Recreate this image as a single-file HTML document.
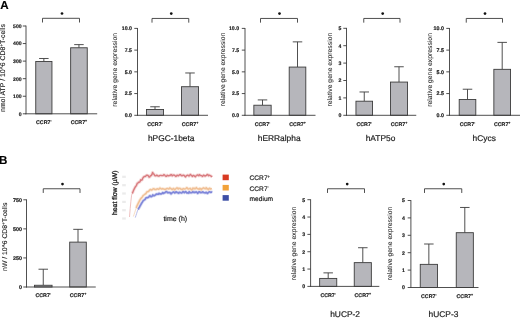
<!DOCTYPE html>
<html><head><meta charset="utf-8"><style>
html,body{margin:0;padding:0;background:#fff;}
svg{display:block;font-family:'Liberation Sans', Arial, sans-serif;text-rendering:geometricPrecision;}
text{stroke:#1a1a1a;stroke-width:0.18px;}
</style></head><body>
<svg width="520" height="318" viewBox="0 0 520 318">
<rect width="520" height="318" fill="#fff"/>
<line x1="43.85" y1="61.47" x2="43.85" y2="58.49" stroke="#3c3c3c" stroke-width="0.9"/>
<line x1="39.10" y1="58.49" x2="48.60" y2="58.49" stroke="#3c3c3c" stroke-width="0.9"/>
<rect x="35.75" y="61.47" width="16.20" height="52.33" fill="#b6b6bb" stroke="#3c3c3c" stroke-width="0.9"/>
<line x1="78.95" y1="47.77" x2="78.95" y2="44.61" stroke="#3c3c3c" stroke-width="0.9"/>
<line x1="74.20" y1="44.61" x2="83.70" y2="44.61" stroke="#3c3c3c" stroke-width="0.9"/>
<rect x="70.65" y="47.77" width="16.60" height="66.03" fill="#b6b6bb" stroke="#3c3c3c" stroke-width="0.9"/>
<line x1="26.00" y1="25.60" x2="26.00" y2="114.25" stroke="#3c3c3c" stroke-width="0.9"/>
<line x1="25.55" y1="113.80" x2="97.20" y2="113.80" stroke="#3c3c3c" stroke-width="0.9"/>
<line x1="22.80" y1="113.80" x2="26.00" y2="113.80" stroke="#3c3c3c" stroke-width="0.9"/>
<text x="21.60" y="115.65" font-size="5.1" text-anchor="end" font-weight="bold" fill="#1a1a1a" >0</text>
<line x1="22.80" y1="96.24" x2="26.00" y2="96.24" stroke="#3c3c3c" stroke-width="0.9"/>
<text x="21.60" y="98.09" font-size="5.1" text-anchor="end" font-weight="bold" fill="#1a1a1a" >100</text>
<line x1="22.80" y1="78.68" x2="26.00" y2="78.68" stroke="#3c3c3c" stroke-width="0.9"/>
<text x="21.60" y="80.53" font-size="5.1" text-anchor="end" font-weight="bold" fill="#1a1a1a" >200</text>
<line x1="22.80" y1="61.12" x2="26.00" y2="61.12" stroke="#3c3c3c" stroke-width="0.9"/>
<text x="21.60" y="62.97" font-size="5.1" text-anchor="end" font-weight="bold" fill="#1a1a1a" >300</text>
<line x1="22.80" y1="43.56" x2="26.00" y2="43.56" stroke="#3c3c3c" stroke-width="0.9"/>
<text x="21.60" y="45.41" font-size="5.1" text-anchor="end" font-weight="bold" fill="#1a1a1a" >400</text>
<line x1="22.80" y1="26.00" x2="26.00" y2="26.00" stroke="#3c3c3c" stroke-width="0.9"/>
<text x="21.60" y="27.85" font-size="5.1" text-anchor="end" font-weight="bold" fill="#1a1a1a" >500</text>
<text x="43.85" y="124.00" font-size="5.3" text-anchor="middle" font-weight="bold" fill="#1a1a1a">CCR7<tspan font-size="3.6" dy="-2">-</tspan></text>
<text x="78.95" y="124.00" font-size="5.3" text-anchor="middle" font-weight="bold" fill="#1a1a1a">CCR7<tspan font-size="3.6" dy="-2">+</tspan></text>
<polyline points="42.50,22.50 42.50,18.30 79.50,18.30 79.50,22.50" fill="none" stroke="#3c3c3c" stroke-width="0.9"/>
<circle cx="62.00" cy="13.50" r="1.35" fill="#111"/>
<text transform="translate(4.80,68.05) rotate(-90)" x="0" y="0" font-size="6.88" text-anchor="middle" style="fill:#1a1a1a;stroke-width:0.12px">nmol ATP / 10^6 CD8<tspan font-size="4.5" dy="-2">+</tspan><tspan dy="2">T-cells</tspan></text>
<line x1="155.00" y1="109.48" x2="155.00" y2="106.78" stroke="#3c3c3c" stroke-width="0.9"/>
<line x1="150.25" y1="106.78" x2="159.75" y2="106.78" stroke="#3c3c3c" stroke-width="0.9"/>
<rect x="146.45" y="109.48" width="17.10" height="5.82" fill="#b6b6bb" stroke="#3c3c3c" stroke-width="0.9"/>
<line x1="190.00" y1="86.71" x2="190.00" y2="72.98" stroke="#3c3c3c" stroke-width="0.9"/>
<line x1="185.25" y1="72.98" x2="194.75" y2="72.98" stroke="#3c3c3c" stroke-width="0.9"/>
<rect x="181.45" y="86.71" width="17.10" height="28.59" fill="#b6b6bb" stroke="#3c3c3c" stroke-width="0.9"/>
<line x1="137.50" y1="28.00" x2="137.50" y2="115.75" stroke="#3c3c3c" stroke-width="0.9"/>
<line x1="137.05" y1="115.30" x2="208.00" y2="115.30" stroke="#3c3c3c" stroke-width="0.9"/>
<line x1="134.30" y1="115.30" x2="137.50" y2="115.30" stroke="#3c3c3c" stroke-width="0.9"/>
<text x="131.90" y="117.15" font-size="5.2" text-anchor="end" font-weight="bold" fill="#1a1a1a" >0.0</text>
<line x1="134.30" y1="93.57" x2="137.50" y2="93.57" stroke="#3c3c3c" stroke-width="0.9"/>
<text x="131.90" y="95.42" font-size="5.2" text-anchor="end" font-weight="bold" fill="#1a1a1a" >2.5</text>
<line x1="134.30" y1="71.85" x2="137.50" y2="71.85" stroke="#3c3c3c" stroke-width="0.9"/>
<text x="131.90" y="73.70" font-size="5.2" text-anchor="end" font-weight="bold" fill="#1a1a1a" >5.0</text>
<line x1="134.30" y1="50.12" x2="137.50" y2="50.12" stroke="#3c3c3c" stroke-width="0.9"/>
<text x="131.90" y="51.97" font-size="5.2" text-anchor="end" font-weight="bold" fill="#1a1a1a" >7.5</text>
<line x1="134.30" y1="28.40" x2="137.50" y2="28.40" stroke="#3c3c3c" stroke-width="0.9"/>
<text x="131.90" y="30.25" font-size="5.2" text-anchor="end" font-weight="bold" fill="#1a1a1a" >10.0</text>
<text x="155.00" y="125.50" font-size="5.3" text-anchor="middle" font-weight="bold" fill="#1a1a1a">CCR7<tspan font-size="3.6" dy="-2">-</tspan></text>
<text x="190.00" y="125.50" font-size="5.3" text-anchor="middle" font-weight="bold" fill="#1a1a1a">CCR7<tspan font-size="3.6" dy="-2">+</tspan></text>
<polyline points="152.00,22.65 152.00,18.45 188.75,18.45 188.75,22.65" fill="none" stroke="#3c3c3c" stroke-width="0.9"/>
<circle cx="171.25" cy="13.60" r="1.35" fill="#111"/>
<text x="171.20" y="141.10" font-size="8.4" text-anchor="middle" font-weight="normal" fill="#1a1a1a" >hPGC-1beta</text>
<text transform="translate(116.80,69.80) rotate(-90)" x="0" y="0" font-size="6.8" text-anchor="middle" style="fill:#222;stroke:#222;stroke-width:0.05px">relative gene expression</text>
<line x1="262.50" y1="105.22" x2="262.50" y2="99.92" stroke="#3c3c3c" stroke-width="0.9"/>
<line x1="257.75" y1="99.92" x2="267.25" y2="99.92" stroke="#3c3c3c" stroke-width="0.9"/>
<rect x="253.85" y="105.22" width="17.30" height="10.08" fill="#b6b6bb" stroke="#3c3c3c" stroke-width="0.9"/>
<line x1="297.50" y1="67.07" x2="297.50" y2="41.87" stroke="#3c3c3c" stroke-width="0.9"/>
<line x1="292.75" y1="41.87" x2="302.25" y2="41.87" stroke="#3c3c3c" stroke-width="0.9"/>
<rect x="289.20" y="67.07" width="16.60" height="48.23" fill="#b6b6bb" stroke="#3c3c3c" stroke-width="0.9"/>
<line x1="245.00" y1="28.00" x2="245.00" y2="115.75" stroke="#3c3c3c" stroke-width="0.9"/>
<line x1="244.55" y1="115.30" x2="315.50" y2="115.30" stroke="#3c3c3c" stroke-width="0.9"/>
<line x1="241.80" y1="115.30" x2="245.00" y2="115.30" stroke="#3c3c3c" stroke-width="0.9"/>
<text x="239.10" y="117.15" font-size="5.2" text-anchor="end" font-weight="bold" fill="#1a1a1a" >0.0</text>
<line x1="241.80" y1="93.57" x2="245.00" y2="93.57" stroke="#3c3c3c" stroke-width="0.9"/>
<text x="239.10" y="95.42" font-size="5.2" text-anchor="end" font-weight="bold" fill="#1a1a1a" >2.5</text>
<line x1="241.80" y1="71.85" x2="245.00" y2="71.85" stroke="#3c3c3c" stroke-width="0.9"/>
<text x="239.10" y="73.70" font-size="5.2" text-anchor="end" font-weight="bold" fill="#1a1a1a" >5.0</text>
<line x1="241.80" y1="50.12" x2="245.00" y2="50.12" stroke="#3c3c3c" stroke-width="0.9"/>
<text x="239.10" y="51.97" font-size="5.2" text-anchor="end" font-weight="bold" fill="#1a1a1a" >7.5</text>
<line x1="241.80" y1="28.40" x2="245.00" y2="28.40" stroke="#3c3c3c" stroke-width="0.9"/>
<text x="239.10" y="30.25" font-size="5.2" text-anchor="end" font-weight="bold" fill="#1a1a1a" >10.0</text>
<text x="262.50" y="125.50" font-size="5.3" text-anchor="middle" font-weight="bold" fill="#1a1a1a">CCR7<tspan font-size="3.6" dy="-2">-</tspan></text>
<text x="297.50" y="125.50" font-size="5.3" text-anchor="middle" font-weight="bold" fill="#1a1a1a">CCR7<tspan font-size="3.6" dy="-2">+</tspan></text>
<polyline points="260.50,22.65 260.50,18.45 297.50,18.45 297.50,22.65" fill="none" stroke="#3c3c3c" stroke-width="0.9"/>
<circle cx="279.50" cy="13.60" r="1.35" fill="#111"/>
<text x="279.20" y="141.10" font-size="8.4" text-anchor="middle" font-weight="normal" fill="#1a1a1a" >hERRalpha</text>
<text transform="translate(225.20,69.40) rotate(-90)" x="0" y="0" font-size="6.8" text-anchor="middle" style="fill:#222;stroke:#222;stroke-width:0.05px">relative gene expression</text>
<line x1="364.25" y1="101.21" x2="364.25" y2="91.98" stroke="#3c3c3c" stroke-width="0.9"/>
<line x1="359.50" y1="91.98" x2="369.00" y2="91.98" stroke="#3c3c3c" stroke-width="0.9"/>
<rect x="355.95" y="101.21" width="16.60" height="14.09" fill="#b6b6bb" stroke="#3c3c3c" stroke-width="0.9"/>
<line x1="399.00" y1="82.07" x2="399.00" y2="66.75" stroke="#3c3c3c" stroke-width="0.9"/>
<line x1="394.25" y1="66.75" x2="403.75" y2="66.75" stroke="#3c3c3c" stroke-width="0.9"/>
<rect x="390.45" y="82.07" width="17.10" height="33.23" fill="#b6b6bb" stroke="#3c3c3c" stroke-width="0.9"/>
<line x1="346.50" y1="27.90" x2="346.50" y2="115.75" stroke="#3c3c3c" stroke-width="0.9"/>
<line x1="346.05" y1="115.30" x2="416.25" y2="115.30" stroke="#3c3c3c" stroke-width="0.9"/>
<line x1="343.30" y1="115.30" x2="346.50" y2="115.30" stroke="#3c3c3c" stroke-width="0.9"/>
<text x="341.30" y="117.15" font-size="5.2" text-anchor="end" font-weight="bold" fill="#1a1a1a" >0</text>
<line x1="343.30" y1="97.90" x2="346.50" y2="97.90" stroke="#3c3c3c" stroke-width="0.9"/>
<text x="341.30" y="99.75" font-size="5.2" text-anchor="end" font-weight="bold" fill="#1a1a1a" >1</text>
<line x1="343.30" y1="80.50" x2="346.50" y2="80.50" stroke="#3c3c3c" stroke-width="0.9"/>
<text x="341.30" y="82.35" font-size="5.2" text-anchor="end" font-weight="bold" fill="#1a1a1a" >2</text>
<line x1="343.30" y1="63.10" x2="346.50" y2="63.10" stroke="#3c3c3c" stroke-width="0.9"/>
<text x="341.30" y="64.95" font-size="5.2" text-anchor="end" font-weight="bold" fill="#1a1a1a" >3</text>
<line x1="343.30" y1="45.70" x2="346.50" y2="45.70" stroke="#3c3c3c" stroke-width="0.9"/>
<text x="341.30" y="47.55" font-size="5.2" text-anchor="end" font-weight="bold" fill="#1a1a1a" >4</text>
<line x1="343.30" y1="28.30" x2="346.50" y2="28.30" stroke="#3c3c3c" stroke-width="0.9"/>
<text x="341.30" y="30.15" font-size="5.2" text-anchor="end" font-weight="bold" fill="#1a1a1a" >5</text>
<text x="364.25" y="125.50" font-size="5.3" text-anchor="middle" font-weight="bold" fill="#1a1a1a">CCR7<tspan font-size="3.6" dy="-2">-</tspan></text>
<text x="399.00" y="125.50" font-size="5.3" text-anchor="middle" font-weight="bold" fill="#1a1a1a">CCR7<tspan font-size="3.6" dy="-2">+</tspan></text>
<polyline points="363.75,22.65 363.75,18.45 400.00,18.45 400.00,22.65" fill="none" stroke="#3c3c3c" stroke-width="0.9"/>
<circle cx="382.70" cy="13.60" r="1.35" fill="#111"/>
<text x="380.50" y="141.10" font-size="8.4" text-anchor="middle" font-weight="normal" fill="#1a1a1a" >hATP5o</text>
<text transform="translate(331.80,69.60) rotate(-90)" x="0" y="0" font-size="6.8" text-anchor="middle" style="fill:#222;stroke:#222;stroke-width:0.05px">relative gene expression</text>
<line x1="467.50" y1="99.48" x2="467.50" y2="89.23" stroke="#3c3c3c" stroke-width="0.9"/>
<line x1="462.75" y1="89.23" x2="472.25" y2="89.23" stroke="#3c3c3c" stroke-width="0.9"/>
<rect x="459.20" y="99.48" width="16.60" height="15.82" fill="#b6b6bb" stroke="#3c3c3c" stroke-width="0.9"/>
<line x1="502.20" y1="69.33" x2="502.20" y2="42.39" stroke="#3c3c3c" stroke-width="0.9"/>
<line x1="497.45" y1="42.39" x2="506.95" y2="42.39" stroke="#3c3c3c" stroke-width="0.9"/>
<rect x="493.85" y="69.33" width="16.70" height="45.97" fill="#b6b6bb" stroke="#3c3c3c" stroke-width="0.9"/>
<line x1="449.50" y1="28.00" x2="449.50" y2="115.75" stroke="#3c3c3c" stroke-width="0.9"/>
<line x1="449.05" y1="115.30" x2="520.00" y2="115.30" stroke="#3c3c3c" stroke-width="0.9"/>
<line x1="446.30" y1="115.30" x2="449.50" y2="115.30" stroke="#3c3c3c" stroke-width="0.9"/>
<text x="443.90" y="117.15" font-size="5.3" text-anchor="end" font-weight="bold" fill="#1a1a1a" >0.0</text>
<line x1="446.30" y1="93.57" x2="449.50" y2="93.57" stroke="#3c3c3c" stroke-width="0.9"/>
<text x="443.90" y="95.42" font-size="5.3" text-anchor="end" font-weight="bold" fill="#1a1a1a" >2.5</text>
<line x1="446.30" y1="71.85" x2="449.50" y2="71.85" stroke="#3c3c3c" stroke-width="0.9"/>
<text x="443.90" y="73.70" font-size="5.3" text-anchor="end" font-weight="bold" fill="#1a1a1a" >5.0</text>
<line x1="446.30" y1="50.12" x2="449.50" y2="50.12" stroke="#3c3c3c" stroke-width="0.9"/>
<text x="443.90" y="51.97" font-size="5.3" text-anchor="end" font-weight="bold" fill="#1a1a1a" >7.5</text>
<line x1="446.30" y1="28.40" x2="449.50" y2="28.40" stroke="#3c3c3c" stroke-width="0.9"/>
<text x="443.90" y="30.25" font-size="5.3" text-anchor="end" font-weight="bold" fill="#1a1a1a" >10.0</text>
<text x="467.50" y="125.50" font-size="5.3" text-anchor="middle" font-weight="bold" fill="#1a1a1a">CCR7<tspan font-size="3.6" dy="-2">-</tspan></text>
<text x="502.20" y="125.50" font-size="5.3" text-anchor="middle" font-weight="bold" fill="#1a1a1a">CCR7<tspan font-size="3.6" dy="-2">+</tspan></text>
<polyline points="466.25,22.65 466.25,18.45 502.50,18.45 502.50,22.65" fill="none" stroke="#3c3c3c" stroke-width="0.9"/>
<circle cx="485.00" cy="13.60" r="1.35" fill="#111"/>
<text x="484.20" y="141.10" font-size="8.4" text-anchor="middle" font-weight="normal" fill="#1a1a1a" >hCycs</text>
<text transform="translate(432.20,69.90) rotate(-90)" x="0" y="0" font-size="6.8" text-anchor="middle" style="fill:#222;stroke:#222;stroke-width:0.05px">relative gene expression</text>
<line x1="43.25" y1="285.26" x2="43.25" y2="269.21" stroke="#3c3c3c" stroke-width="0.9"/>
<line x1="38.50" y1="269.21" x2="48.00" y2="269.21" stroke="#3c3c3c" stroke-width="0.9"/>
<rect x="34.45" y="285.26" width="17.60" height="1.74" fill="#b6b6bb" stroke="#3c3c3c" stroke-width="0.9"/>
<line x1="78.00" y1="242.12" x2="78.00" y2="229.33" stroke="#3c3c3c" stroke-width="0.9"/>
<line x1="73.25" y1="229.33" x2="82.75" y2="229.33" stroke="#3c3c3c" stroke-width="0.9"/>
<rect x="69.70" y="242.12" width="16.60" height="44.88" fill="#b6b6bb" stroke="#3c3c3c" stroke-width="0.9"/>
<line x1="26.50" y1="199.40" x2="26.50" y2="287.45" stroke="#3c3c3c" stroke-width="0.9"/>
<line x1="26.05" y1="287.00" x2="95.75" y2="287.00" stroke="#3c3c3c" stroke-width="0.9"/>
<line x1="23.30" y1="287.00" x2="26.50" y2="287.00" stroke="#3c3c3c" stroke-width="0.9"/>
<text x="22.00" y="288.85" font-size="5.4" text-anchor="end" font-weight="bold" fill="#1a1a1a" >0</text>
<line x1="23.30" y1="257.93" x2="26.50" y2="257.93" stroke="#3c3c3c" stroke-width="0.9"/>
<text x="22.00" y="259.78" font-size="5.4" text-anchor="end" font-weight="bold" fill="#1a1a1a" >250</text>
<line x1="23.30" y1="228.87" x2="26.50" y2="228.87" stroke="#3c3c3c" stroke-width="0.9"/>
<text x="22.00" y="230.72" font-size="5.4" text-anchor="end" font-weight="bold" fill="#1a1a1a" >500</text>
<line x1="23.30" y1="199.80" x2="26.50" y2="199.80" stroke="#3c3c3c" stroke-width="0.9"/>
<text x="22.00" y="201.65" font-size="5.4" text-anchor="end" font-weight="bold" fill="#1a1a1a" >750</text>
<text x="43.25" y="297.20" font-size="5.3" text-anchor="middle" font-weight="bold" fill="#1a1a1a">CCR7<tspan font-size="3.6" dy="-2">-</tspan></text>
<text x="78.00" y="297.20" font-size="5.3" text-anchor="middle" font-weight="bold" fill="#1a1a1a">CCR7<tspan font-size="3.6" dy="-2">+</tspan></text>
<polyline points="43.25,192.95 43.25,188.75 80.00,188.75 80.00,192.95" fill="none" stroke="#3c3c3c" stroke-width="0.9"/>
<circle cx="62.50" cy="184.05" r="1.35" fill="#111"/>
<text transform="translate(6.80,236.80) rotate(-90)" x="0" y="0" font-size="6.8" text-anchor="middle" style="fill:#1a1a1a;stroke-width:0.12px">nW / 10^6 CD8<tspan font-size="4.5" dy="-2">+</tspan><tspan dy="2">T-cells</tspan></text>
<line x1="328.20" y1="278.42" x2="328.20" y2="272.87" stroke="#3c3c3c" stroke-width="0.9"/>
<line x1="323.45" y1="272.87" x2="332.95" y2="272.87" stroke="#3c3c3c" stroke-width="0.9"/>
<rect x="319.65" y="278.42" width="17.10" height="7.98" fill="#b6b6bb" stroke="#3c3c3c" stroke-width="0.9"/>
<line x1="362.80" y1="262.64" x2="362.80" y2="247.73" stroke="#3c3c3c" stroke-width="0.9"/>
<line x1="358.05" y1="247.73" x2="367.55" y2="247.73" stroke="#3c3c3c" stroke-width="0.9"/>
<rect x="354.25" y="262.64" width="17.10" height="23.76" fill="#b6b6bb" stroke="#3c3c3c" stroke-width="0.9"/>
<line x1="310.60" y1="199.30" x2="310.60" y2="286.85" stroke="#3c3c3c" stroke-width="0.9"/>
<line x1="310.15" y1="286.40" x2="379.30" y2="286.40" stroke="#3c3c3c" stroke-width="0.9"/>
<line x1="307.40" y1="286.40" x2="310.60" y2="286.40" stroke="#3c3c3c" stroke-width="0.9"/>
<text x="305.10" y="288.25" font-size="5.2" text-anchor="end" font-weight="bold" fill="#1a1a1a" >0</text>
<line x1="307.40" y1="269.06" x2="310.60" y2="269.06" stroke="#3c3c3c" stroke-width="0.9"/>
<text x="305.10" y="270.91" font-size="5.2" text-anchor="end" font-weight="bold" fill="#1a1a1a" >1</text>
<line x1="307.40" y1="251.72" x2="310.60" y2="251.72" stroke="#3c3c3c" stroke-width="0.9"/>
<text x="305.10" y="253.57" font-size="5.2" text-anchor="end" font-weight="bold" fill="#1a1a1a" >2</text>
<line x1="307.40" y1="234.38" x2="310.60" y2="234.38" stroke="#3c3c3c" stroke-width="0.9"/>
<text x="305.10" y="236.23" font-size="5.2" text-anchor="end" font-weight="bold" fill="#1a1a1a" >3</text>
<line x1="307.40" y1="217.04" x2="310.60" y2="217.04" stroke="#3c3c3c" stroke-width="0.9"/>
<text x="305.10" y="218.89" font-size="5.2" text-anchor="end" font-weight="bold" fill="#1a1a1a" >4</text>
<line x1="307.40" y1="199.70" x2="310.60" y2="199.70" stroke="#3c3c3c" stroke-width="0.9"/>
<text x="305.10" y="201.55" font-size="5.2" text-anchor="end" font-weight="bold" fill="#1a1a1a" >5</text>
<text x="328.20" y="296.60" font-size="5.3" text-anchor="middle" font-weight="bold" fill="#1a1a1a">CCR7<tspan font-size="3.6" dy="-2">-</tspan></text>
<text x="362.80" y="296.60" font-size="5.3" text-anchor="middle" font-weight="bold" fill="#1a1a1a">CCR7<tspan font-size="3.6" dy="-2">+</tspan></text>
<polyline points="327.50,192.95 327.50,188.75 364.50,188.75 364.50,192.95" fill="none" stroke="#3c3c3c" stroke-width="0.9"/>
<circle cx="347.20" cy="184.05" r="1.35" fill="#111"/>
<text x="345.10" y="317.30" font-size="8.4" text-anchor="middle" font-weight="normal" fill="#1a1a1a" >hUCP-2</text>
<text transform="translate(296.00,243.50) rotate(-90)" x="0" y="0" font-size="6.8" text-anchor="middle" style="fill:#222;stroke:#222;stroke-width:0.05px">relative gene expression</text>
<line x1="428.85" y1="264.36" x2="428.85" y2="244.00" stroke="#3c3c3c" stroke-width="0.9"/>
<line x1="424.10" y1="244.00" x2="433.60" y2="244.00" stroke="#3c3c3c" stroke-width="0.9"/>
<rect x="420.25" y="264.36" width="17.20" height="23.14" fill="#b6b6bb" stroke="#3c3c3c" stroke-width="0.9"/>
<line x1="464.80" y1="232.69" x2="464.80" y2="207.46" stroke="#3c3c3c" stroke-width="0.9"/>
<line x1="460.05" y1="207.46" x2="469.55" y2="207.46" stroke="#3c3c3c" stroke-width="0.9"/>
<rect x="456.25" y="232.69" width="17.10" height="54.81" fill="#b6b6bb" stroke="#3c3c3c" stroke-width="0.9"/>
<line x1="410.90" y1="200.10" x2="410.90" y2="287.95" stroke="#3c3c3c" stroke-width="0.9"/>
<line x1="410.45" y1="287.50" x2="478.50" y2="287.50" stroke="#3c3c3c" stroke-width="0.9"/>
<line x1="407.70" y1="287.50" x2="410.90" y2="287.50" stroke="#3c3c3c" stroke-width="0.9"/>
<text x="404.80" y="289.35" font-size="5.2" text-anchor="end" font-weight="bold" fill="#1a1a1a" >0</text>
<line x1="407.70" y1="270.10" x2="410.90" y2="270.10" stroke="#3c3c3c" stroke-width="0.9"/>
<text x="404.80" y="271.95" font-size="5.2" text-anchor="end" font-weight="bold" fill="#1a1a1a" >1</text>
<line x1="407.70" y1="252.70" x2="410.90" y2="252.70" stroke="#3c3c3c" stroke-width="0.9"/>
<text x="404.80" y="254.55" font-size="5.2" text-anchor="end" font-weight="bold" fill="#1a1a1a" >2</text>
<line x1="407.70" y1="235.30" x2="410.90" y2="235.30" stroke="#3c3c3c" stroke-width="0.9"/>
<text x="404.80" y="237.15" font-size="5.2" text-anchor="end" font-weight="bold" fill="#1a1a1a" >3</text>
<line x1="407.70" y1="217.90" x2="410.90" y2="217.90" stroke="#3c3c3c" stroke-width="0.9"/>
<text x="404.80" y="219.75" font-size="5.2" text-anchor="end" font-weight="bold" fill="#1a1a1a" >4</text>
<line x1="407.70" y1="200.50" x2="410.90" y2="200.50" stroke="#3c3c3c" stroke-width="0.9"/>
<text x="404.80" y="202.35" font-size="5.2" text-anchor="end" font-weight="bold" fill="#1a1a1a" >5</text>
<text x="428.85" y="297.70" font-size="5.3" text-anchor="middle" font-weight="bold" fill="#1a1a1a">CCR7<tspan font-size="3.6" dy="-2">-</tspan></text>
<text x="464.80" y="297.70" font-size="5.3" text-anchor="middle" font-weight="bold" fill="#1a1a1a">CCR7<tspan font-size="3.6" dy="-2">+</tspan></text>
<polyline points="424.50,192.95 424.50,188.75 461.75,188.75 461.75,192.95" fill="none" stroke="#3c3c3c" stroke-width="0.9"/>
<circle cx="443.75" cy="184.05" r="1.35" fill="#111"/>
<text x="443.50" y="317.30" font-size="8.4" text-anchor="middle" font-weight="normal" fill="#1a1a1a" >hUCP-3</text>
<text transform="translate(392.20,243.50) rotate(-90)" x="0" y="0" font-size="6.8" text-anchor="middle" style="fill:#222;stroke:#222;stroke-width:0.05px">relative gene expression</text>
<text x="0.30" y="8.80" font-size="11.6" text-anchor="start" font-weight="bold" fill="#000" >A</text>
<text x="-0.90" y="164.10" font-size="11.6" text-anchor="start" font-weight="bold" fill="#000" >B</text>
<polyline points="138.1,209.5 138.8,208.2 139.5,207.0 140.2,205.7 140.9,204.5 141.6,203.2 142.3,202.2 143.0,201.0 143.7,200.3 144.4,199.9 145.1,199.4 145.8,198.1 146.5,197.8 147.2,197.6 147.9,197.6 148.6,197.3 149.3,196.1 150.0,195.7 150.7,196.6 151.4,196.6 152.1,196.2 152.8,194.9 153.5,195.7 154.2,195.7 154.9,195.3 155.6,194.9 156.3,194.0 157.0,194.0 157.7,194.3 158.4,194.2 159.1,193.3 159.8,193.9 160.5,193.9 161.2,193.9 161.9,193.6 162.6,192.6 163.3,193.4 164.0,192.9 164.7,192.9 165.4,192.2 166.1,191.5 166.8,191.8 167.5,192.6 168.2,192.6 168.9,192.6 169.6,192.6 170.3,192.7 171.0,193.8 171.7,193.2 172.4,192.6 173.1,192.3 173.8,191.8 174.5,192.9 175.2,192.7 175.9,191.8 176.6,192.1 177.3,192.8 178.0,192.6 178.7,193.2 179.4,192.2 180.1,192.4 180.8,192.8 181.5,193.0 182.2,192.6 182.9,191.4 183.6,192.1 184.3,192.6 185.0,191.9 185.7,191.6 186.4,192.5 187.1,193.0 187.8,192.8 188.5,193.1 189.2,191.7 189.9,192.7 190.6,192.6 191.3,192.8 192.0,192.6 192.7,191.4 193.4,192.3 194.1,192.6 194.8,192.0 195.5,192.4 196.2,191.9 196.9,192.3 197.6,193.3 198.3,192.9 199.0,191.7 199.7,191.8 200.4,192.6 201.1,192.3 201.8,192.6 202.5,191.8 203.2,192.0 203.9,192.7 204.6,192.8 205.3,192.9 206.0,192.3 206.7,192.7 207.4,193.4 208.1,192.9 208.8,192.0 209.5,191.8 210.2,192.1 210.9,192.4 211.6,192.0 212.3,192.2" fill="none" stroke="#b8bdea" stroke-width="3.2" stroke-linejoin="round" opacity="0.55"/>
<polyline points="135.3,217.6 136.0,215.4 136.7,213.3 137.4,211.1 138.1,209.5" fill="none" stroke="#b8bdea" stroke-width="1.0" stroke-linejoin="round"/>
<polyline points="138.1,209.5 138.8,208.2 139.5,207.0 140.2,205.7 140.9,204.5 141.6,203.2 142.3,202.2 143.0,201.0 143.7,200.3 144.4,199.9 145.1,199.4 145.8,198.1 146.5,197.8 147.2,197.6 147.9,197.6 148.6,197.3 149.3,196.1 150.0,195.7 150.7,196.6 151.4,196.6 152.1,196.2 152.8,194.9 153.5,195.7 154.2,195.7 154.9,195.3 155.6,194.9 156.3,194.0 157.0,194.0 157.7,194.3 158.4,194.2 159.1,193.3 159.8,193.9 160.5,193.9 161.2,193.9 161.9,193.6 162.6,192.6 163.3,193.4 164.0,192.9 164.7,192.9 165.4,192.2 166.1,191.5 166.8,191.8 167.5,192.6 168.2,192.6 168.9,192.6 169.6,192.6 170.3,192.7 171.0,193.8 171.7,193.2 172.4,192.6 173.1,192.3 173.8,191.8 174.5,192.9 175.2,192.7 175.9,191.8 176.6,192.1 177.3,192.8 178.0,192.6 178.7,193.2 179.4,192.2 180.1,192.4 180.8,192.8 181.5,193.0 182.2,192.6 182.9,191.4 183.6,192.1 184.3,192.6 185.0,191.9 185.7,191.6 186.4,192.5 187.1,193.0 187.8,192.8 188.5,193.1 189.2,191.7 189.9,192.7 190.6,192.6 191.3,192.8 192.0,192.6 192.7,191.4 193.4,192.3 194.1,192.6 194.8,192.0 195.5,192.4 196.2,191.9 196.9,192.3 197.6,193.3 198.3,192.9 199.0,191.7 199.7,191.8 200.4,192.6 201.1,192.3 201.8,192.6 202.5,191.8 203.2,192.0 203.9,192.7 204.6,192.8 205.3,192.9 206.0,192.3 206.7,192.7 207.4,193.4 208.1,192.9 208.8,192.0 209.5,191.8 210.2,192.1 210.9,192.4 211.6,192.0 212.3,192.2" fill="none" stroke="#7f87da" stroke-width="1.6" stroke-linejoin="round"/>
<polyline points="136.2,208.0 136.9,206.0 137.6,204.6 138.3,203.2 139.0,201.8 139.7,200.4 140.4,199.2 141.1,198.3 141.8,197.6 142.5,196.6 143.2,195.5 143.9,195.0 144.6,194.5 145.3,193.9 146.0,193.5 146.7,192.1 147.4,191.7 148.1,191.7 148.8,191.2 149.5,190.3 150.2,189.5 150.9,189.7 151.6,190.1 152.3,189.7 153.0,188.9 153.7,188.7 154.4,189.1 155.1,189.5 155.8,189.6 156.5,189.1 157.2,189.0 157.9,188.8 158.6,189.3 159.3,188.9 160.0,188.0 160.7,188.5 161.4,189.1 162.1,189.0 162.8,188.6 163.5,188.9 164.2,189.2 164.9,189.3 165.6,189.4 166.3,188.7 167.0,188.5 167.7,188.5 168.4,188.9 169.1,188.9 169.8,187.9 170.5,188.6 171.2,188.7 171.9,189.4 172.6,189.4 173.3,188.5 174.0,188.9 174.7,189.8 175.4,189.1 176.1,188.5 176.8,187.9 177.5,188.0 178.2,189.1 178.9,188.3 179.6,188.5 180.3,188.4 181.0,189.2 181.7,189.3 182.4,189.6 183.1,188.6 183.8,188.8 184.5,189.0 185.2,188.9 185.9,188.6 186.6,187.7 187.3,188.0 188.0,189.0 188.7,189.1 189.4,188.7 190.1,188.3 190.8,189.1 191.5,189.8 192.2,189.4 192.9,188.1 193.6,188.7 194.3,188.2 195.0,188.9 195.7,188.3 196.4,187.6 197.1,188.7 197.8,188.7 198.5,189.0 199.2,189.3 199.9,188.3 200.6,188.7 201.3,189.8 202.0,188.8 202.7,188.6 203.4,187.8 204.1,188.2 204.8,188.7 205.5,188.7 206.2,187.7 206.9,189.0 207.6,188.6 208.3,189.6 209.0,188.7 209.7,188.2 210.4,189.1 211.1,188.8 211.8,188.4" fill="none" stroke="#f8dcc4" stroke-width="3.2" stroke-linejoin="round" opacity="0.55"/>
<polyline points="133.4,216.5 134.1,214.4 134.8,212.2 135.5,210.1 136.2,208.0" fill="none" stroke="#f8dcc4" stroke-width="1.0" stroke-linejoin="round"/>
<polyline points="136.2,208.0 136.9,206.0 137.6,204.6 138.3,203.2 139.0,201.8 139.7,200.4 140.4,199.2 141.1,198.3 141.8,197.6 142.5,196.6 143.2,195.5 143.9,195.0 144.6,194.5 145.3,193.9 146.0,193.5 146.7,192.1 147.4,191.7 148.1,191.7 148.8,191.2 149.5,190.3 150.2,189.5 150.9,189.7 151.6,190.1 152.3,189.7 153.0,188.9 153.7,188.7 154.4,189.1 155.1,189.5 155.8,189.6 156.5,189.1 157.2,189.0 157.9,188.8 158.6,189.3 159.3,188.9 160.0,188.0 160.7,188.5 161.4,189.1 162.1,189.0 162.8,188.6 163.5,188.9 164.2,189.2 164.9,189.3 165.6,189.4 166.3,188.7 167.0,188.5 167.7,188.5 168.4,188.9 169.1,188.9 169.8,187.9 170.5,188.6 171.2,188.7 171.9,189.4 172.6,189.4 173.3,188.5 174.0,188.9 174.7,189.8 175.4,189.1 176.1,188.5 176.8,187.9 177.5,188.0 178.2,189.1 178.9,188.3 179.6,188.5 180.3,188.4 181.0,189.2 181.7,189.3 182.4,189.6 183.1,188.6 183.8,188.8 184.5,189.0 185.2,188.9 185.9,188.6 186.6,187.7 187.3,188.0 188.0,189.0 188.7,189.1 189.4,188.7 190.1,188.3 190.8,189.1 191.5,189.8 192.2,189.4 192.9,188.1 193.6,188.7 194.3,188.2 195.0,188.9 195.7,188.3 196.4,187.6 197.1,188.7 197.8,188.7 198.5,189.0 199.2,189.3 199.9,188.3 200.6,188.7 201.3,189.8 202.0,188.8 202.7,188.6 203.4,187.8 204.1,188.2 204.8,188.7 205.5,188.7 206.2,187.7 206.9,189.0 207.6,188.6 208.3,189.6 209.0,188.7 209.7,188.2 210.4,189.1 211.1,188.8 211.8,188.4" fill="none" stroke="#f0c096" stroke-width="1.5" stroke-linejoin="round"/>
<polyline points="132.3,193.4 133.0,191.7 133.7,190.0 134.4,188.6 135.1,187.2 135.8,186.3 136.5,185.3 137.2,183.4 137.9,183.2 138.6,182.2 139.3,182.3 140.0,181.8 140.7,179.8 141.4,180.2 142.1,179.9 142.8,178.1 143.5,177.2 144.2,176.5 144.9,176.5 145.6,176.3 146.3,175.3 147.0,175.4 147.7,175.3 148.4,176.0 149.1,177.2 149.8,176.9 150.5,175.6 151.2,175.6 151.9,174.5 152.6,172.4 153.3,173.9 154.0,174.2 154.7,175.5 155.4,175.8 156.1,175.6 156.8,175.1 157.5,175.7 158.2,176.0 158.9,176.1 159.6,175.7 160.3,175.4 161.0,175.4 161.7,175.6 162.4,175.6 163.1,175.5 163.8,174.6 164.5,174.9 165.2,175.7 165.9,176.3 166.6,176.2 167.3,175.2 168.0,175.8 168.7,175.8 169.4,175.4 170.1,175.5 170.8,174.6 171.5,174.6 172.2,175.8 172.9,175.4 173.6,175.0 174.3,175.2 175.0,175.6 175.7,176.4 176.4,176.2 177.1,175.2 177.8,175.6 178.5,175.8 179.2,175.1 179.9,174.7 180.6,174.6 181.3,175.6 182.0,175.9 182.7,175.3 183.4,175.1 184.1,175.4 184.8,176.3 185.5,176.9 186.2,175.8 186.9,175.5 187.6,175.1 188.3,175.4 189.0,176.1 189.7,175.2 190.4,174.4 191.1,175.1 191.8,175.9 192.5,176.4 193.2,175.4 193.9,175.6 194.6,176.3 195.3,176.8 196.0,175.9 196.7,175.5 197.4,174.9 198.1,175.2 198.8,175.8 199.5,174.7 200.2,175.2 200.9,175.6 201.6,175.6 202.3,176.4 203.0,175.9 203.7,175.1 204.4,175.7 205.1,176.1 205.8,175.7 206.5,175.3 207.2,174.5 207.9,174.8 208.6,175.7 209.3,175.1 210.0,175.5 210.7,175.9 211.4,176.3 212.1,177.0" fill="none" stroke="#efc0c0" stroke-width="3.2" stroke-linejoin="round" opacity="0.55"/>
<polyline points="129.5,217.0 130.2,208.6 130.9,201.2 131.6,195.2 132.3,193.4" fill="none" stroke="#efc0c0" stroke-width="1.0" stroke-linejoin="round"/>
<polyline points="132.3,193.4 133.0,191.7 133.7,190.0 134.4,188.6 135.1,187.2 135.8,186.3 136.5,185.3 137.2,183.4 137.9,183.2 138.6,182.2 139.3,182.3 140.0,181.8 140.7,179.8 141.4,180.2 142.1,179.9 142.8,178.1 143.5,177.2 144.2,176.5 144.9,176.5 145.6,176.3 146.3,175.3 147.0,175.4 147.7,175.3 148.4,176.0 149.1,177.2 149.8,176.9 150.5,175.6 151.2,175.6 151.9,174.5 152.6,172.4 153.3,173.9 154.0,174.2 154.7,175.5 155.4,175.8 156.1,175.6 156.8,175.1 157.5,175.7 158.2,176.0 158.9,176.1 159.6,175.7 160.3,175.4 161.0,175.4 161.7,175.6 162.4,175.6 163.1,175.5 163.8,174.6 164.5,174.9 165.2,175.7 165.9,176.3 166.6,176.2 167.3,175.2 168.0,175.8 168.7,175.8 169.4,175.4 170.1,175.5 170.8,174.6 171.5,174.6 172.2,175.8 172.9,175.4 173.6,175.0 174.3,175.2 175.0,175.6 175.7,176.4 176.4,176.2 177.1,175.2 177.8,175.6 178.5,175.8 179.2,175.1 179.9,174.7 180.6,174.6 181.3,175.6 182.0,175.9 182.7,175.3 183.4,175.1 184.1,175.4 184.8,176.3 185.5,176.9 186.2,175.8 186.9,175.5 187.6,175.1 188.3,175.4 189.0,176.1 189.7,175.2 190.4,174.4 191.1,175.1 191.8,175.9 192.5,176.4 193.2,175.4 193.9,175.6 194.6,176.3 195.3,176.8 196.0,175.9 196.7,175.5 197.4,174.9 198.1,175.2 198.8,175.8 199.5,174.7 200.2,175.2 200.9,175.6 201.6,175.6 202.3,176.4 203.0,175.9 203.7,175.1 204.4,175.7 205.1,176.1 205.8,175.7 206.5,175.3 207.2,174.5 207.9,174.8 208.6,175.7 209.3,175.1 210.0,175.5 210.7,175.9 211.4,176.3 212.1,177.0" fill="none" stroke="#d97c80" stroke-width="1.4" stroke-linejoin="round"/>
<rect x="122.2" y="175.7" width="3.6" height="2.2" fill="#ebebeb"/>
<rect x="122.2" y="184.1" width="3.6" height="2.2" fill="#ebebeb"/>
<rect x="122.2" y="192.4" width="3.6" height="2.2" fill="#ebebeb"/>
<rect x="122.2" y="200.8" width="3.6" height="2.2" fill="#ebebeb"/>
<rect x="122.2" y="209.1" width="3.6" height="2.2" fill="#ebebeb"/>
<rect x="122.2" y="217.4" width="3.6" height="2.2" fill="#ebebeb"/>
<text transform="translate(116.8,192.8) rotate(-90)" font-size="6.9" text-anchor="middle" fill="#1a1a1a" style="stroke-width:0.3px">heat flow (µW)</text>
<text x="163.4" y="221.2" font-size="7" fill="#1a1a1a">time (h)</text>
<rect x="222.6" y="174.6" width="6.2" height="5.6" fill="#d83a22"/>
<rect x="222.6" y="184.9" width="6.2" height="5.6" fill="#f2a23a"/>
<rect x="222.6" y="195.1" width="6.2" height="5.6" fill="#3d4fa6"/>
<text x="249.6" y="180.4" font-size="6.6" fill="#1a1a1a">CCR7<tspan font-size="4.2" dy="-2.6">+</tspan></text>
<text x="249.6" y="190.5" font-size="6.6" fill="#1a1a1a">CCR7<tspan font-size="4.2" dy="-2.6">-</tspan></text>
<text x="249.6" y="200.6" font-size="6.6" fill="#1a1a1a">medium</text>
</svg>
</body></html>
